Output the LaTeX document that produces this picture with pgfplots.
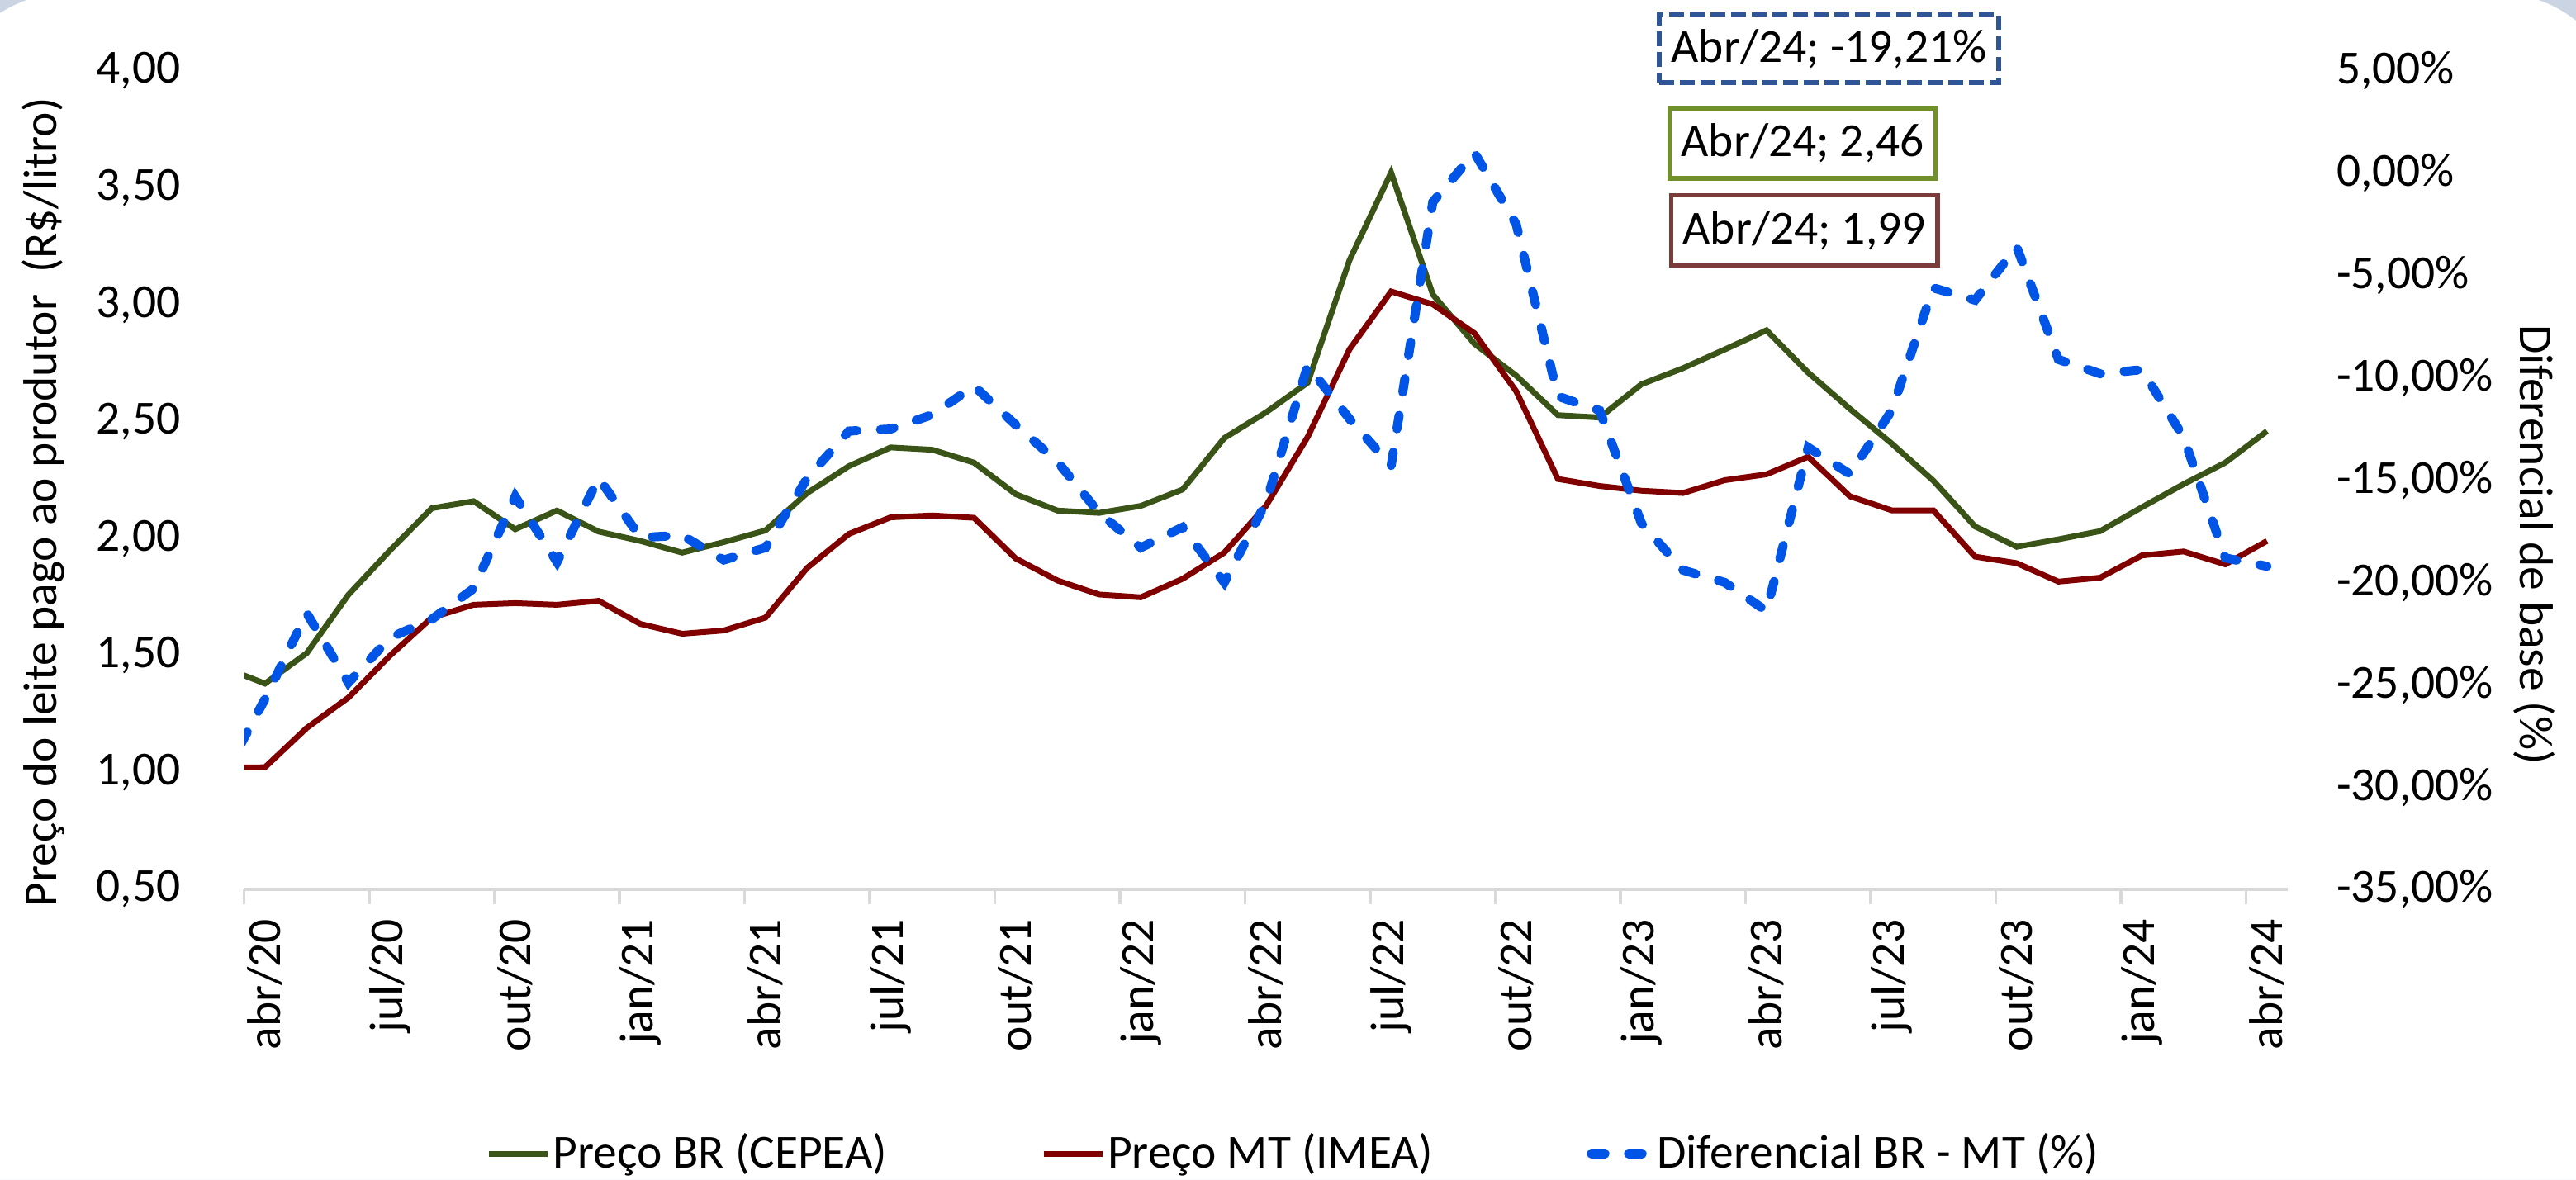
\documentclass[border=0pt]{standalone}
\usepackage{fontspec}
\setmainfont{Carlito}
\usepackage{pgfplots}
\pgfplotsset{compat=1.18}

\definecolor{brgreen}{HTML}{3A5418}
\definecolor{mtred}{HTML}{800000}
\definecolor{diffblue}{HTML}{0055E6}
\definecolor{axisgray}{HTML}{D9D9D9}
\definecolor{framecol}{HTML}{CAD4E2}
\definecolor{boxblue}{HTML}{2F5597}
\definecolor{boxgreen}{HTML}{70902A}
\definecolor{boxred}{HTML}{7B3B3B}
\newcommand\myfont{\fontsize{11.5}{13.8}\selectfont}

\pgfplotsset{
  every axis/.append style={
    scale only axis,
    width=494.9pt,
    height=198.2pt,
    xmin=0, xmax=49,
    tick label style={font=\myfont},
    label style={font=\myfont},
    /pgf/number format/assume math mode=true,
  },
}

\begin{document}
\begin{tikzpicture}
\useasboundingbox (-59.12pt,-70.4pt) rectangle (564.68pt,215.4pt);
% rounded chart border, only its top corners reach into the picture
\fill[framecol, even odd rule] (-59.12pt,-70.4pt) rectangle (564.68pt,215.4pt)
  [rounded corners=30pt] (-72.9pt,-110.4pt) rectangle (575.9pt,217pt);

\begin{axis}[
  ymin=0.5, ymax=4,
  axis x line*=bottom, axis y line*=left,
  x axis line style={-, draw=axisgray, line width=0.75pt},
  y axis line style={draw=none},
  xtick={0,3,...,48}, xticklabels={},
  xtick style={draw=axisgray, line width=0.75pt},
  tick align=outside, major tick length=3.7pt,
  extra x ticks={0.5,3.5,...,48.5},
  extra x tick labels={abr/20,jul/20,out/20,jan/21,abr/21,jul/21,out/21,jan/22,abr/22,jul/22,out/22,jan/23,abr/23,jul/23,out/23,jan/24,abr/24},
  extra x tick style={major tick length=0pt},
  xticklabel style={rotate=90, anchor=east, inner sep=0pt},
  xticklabel shift=7pt,
  ytick={0.5,1,1.5,2,2.5,3,3.5,4},
  ytick style={draw=none},
  yticklabel style={inner sep=0pt, /pgf/number format/.cd, fixed, fixed zerofill, precision=2, use comma},
  yticklabel shift=11.5pt,
  ylabel={Preço do leite pago ao produtor\ \ (R\$/litro)},
  ylabel style={at={(axis description cs:-0.0984,0.473)}, anchor=center},
]
\addplot[brgreen, line width=1.4pt] coordinates {
(-0.5,1.45) (0.5,1.38) (1.5,1.51) (2.5,1.76) (3.5,1.95) (4.5,2.13) (5.5,2.16) (6.5,2.04)
(7.5,2.12) (8.5,2.03) (9.5,1.99) (10.5,1.94) (11.5,1.985) (12.5,2.035) (13.5,2.195)
(14.5,2.31) (15.5,2.39) (16.5,2.38) (17.5,2.325) (18.5,2.19) (19.5,2.12) (20.5,2.11)
(21.5,2.14) (22.5,2.21) (23.5,2.43) (24.5,2.54) (25.5,2.667) (26.5,3.19) (27.5,3.566)
(28.5,3.044) (29.5,2.833) (30.5,2.697) (31.5,2.528) (32.5,2.518) (33.5,2.66) (34.5,2.729)
(35.5,2.809) (36.5,2.891) (37.5,2.71) (38.5,2.555) (39.5,2.407) (40.5,2.248) (41.5,2.052)
(42.5,1.965) (43.5,1.997) (44.5,2.032) (45.5,2.134) (46.5,2.233) (47.5,2.325) (48.5,2.46)
};
\addplot[mtred, line width=1.4pt] coordinates {
(-0.5,1.02) (0.5,1.022) (1.5,1.19) (2.5,1.32) (3.5,1.50) (4.5,1.662) (5.5,1.717) (6.5,1.724)
(7.5,1.717) (8.5,1.734) (9.5,1.635) (10.5,1.593) (11.5,1.607) (12.5,1.662) (13.5,1.875)
(14.5,2.02) (15.5,2.091) (16.5,2.099) (17.5,2.089) (18.5,1.915) (19.5,1.821) (20.5,1.761)
(21.5,1.749) (22.5,1.828) (23.5,1.94) (24.5,2.14) (25.5,2.435) (26.5,2.809) (27.5,3.057)
(28.5,3.002) (29.5,2.878) (30.5,2.63) (31.5,2.255) (32.5,2.225) (33.5,2.205) (34.5,2.195)
(35.5,2.25) (36.5,2.275) (37.5,2.35) (38.5,2.181) (39.5,2.121) (40.5,2.121) (41.5,1.923)
(42.5,1.895) (43.5,1.816) (44.5,1.833) (45.5,1.928) (46.5,1.945) (47.5,1.89) (48.5,1.99)
};
\end{axis}

\begin{axis}[
  ymin=-35, ymax=5,
  axis y line*=right, axis x line=none,
  y axis line style={draw=none},
  ytick={-35,-30,...,5},
  ytick style={draw=none},
  yticklabel={\pgfmathprintnumber{\tick}\%},
  yticklabel style={inner sep=0pt, anchor=west, /pgf/number format/.cd, fixed, fixed zerofill, precision=2, use comma},
  yticklabel shift=11.6pt,
  ylabel={Diferencial de base (\%)},
  ylabel style={at={(axis description cs:1.1204,0.421)}, anchor=center, rotate=180},
  legend columns=3,
  legend style={at={(axis description cs:0.5136,-0.323)}, anchor=center, draw=none, fill=none,
    font=\myfont, nodes={inner sep=0.6pt},
    /tikz/every even column/.append style={column sep=36.6pt}},
  legend image code/.code={\draw[#1] (0pt,0pt) -- (14.2pt,0pt);},
]
\addlegendimage{brgreen, line width=1.4pt}
\addlegendentry{Preço BR (CEPEA)}
\addlegendimage{mtred, line width=1.4pt}
\addlegendentry{Preço MT (IMEA)}
\addplot[diffblue, line width=2.2pt, dash pattern=on 3.3pt off 5.7pt, line cap=round] coordinates {
(-0.5,-29.5) (0.5,-25.7) (1.5,-21.5) (2.5,-24.9) (3.5,-22.7) (4.5,-21.8) (5.5,-20.3) (6.5,-15.8)
(7.5,-19.0) (8.5,-14.9) (9.5,-17.8) (10.5,-17.7) (11.5,-18.9) (12.5,-18.3) (13.5,-14.9)
(14.5,-12.6) (15.5,-12.5) (16.5,-11.8) (17.5,-10.4) (18.5,-12.3) (19.5,-14.1) (20.5,-16.6)
(21.5,-18.3) (22.5,-17.3) (23.5,-20.0) (24.5,-16.1) (25.5,-9.4) (26.5,-12.0) (27.5,-14.3)
(28.5,-1.4) (29.5,1.0) (30.5,-2.5) (31.5,-10.9) (32.5,-11.6) (33.5,-17.1) (34.5,-19.4)
(35.5,-20.0) (36.5,-21.4) (37.5,-13.4) (38.5,-14.7) (39.5,-11.6) (40.5,-5.6) (41.5,-6.2)
(42.5,-3.6) (43.5,-9.1) (44.5,-9.8) (45.5,-9.6) (46.5,-12.9) (47.5,-18.8) (48.5,-19.21)
};
\addlegendentry{Diferencial BR - MT (\%)}
\end{axis}

% data labels of the last point
\node[draw=boxblue, line width=1.1pt, dash pattern=on 3.5pt off 1.5pt, fill=white,
  minimum width=82.2pt, minimum height=16.5pt, inner sep=0pt, font=\myfont]
  at (383.8pt,203.6pt) {Abr/24; -19,21\%};
\node[draw=boxgreen, line width=1.1pt, fill=white,
  minimum width=64.4pt, minimum height=17pt, inner sep=0pt, font=\myfont]
  at (377.4pt,180.7pt) {Abr/24; 2,46};
\node[draw=boxred, line width=1.1pt, fill=white,
  minimum width=64.5pt, minimum height=17pt, inner sep=0pt, font=\myfont]
  at (377.8pt,159.6pt) {Abr/24; 1,99};
\end{tikzpicture}
\end{document}
